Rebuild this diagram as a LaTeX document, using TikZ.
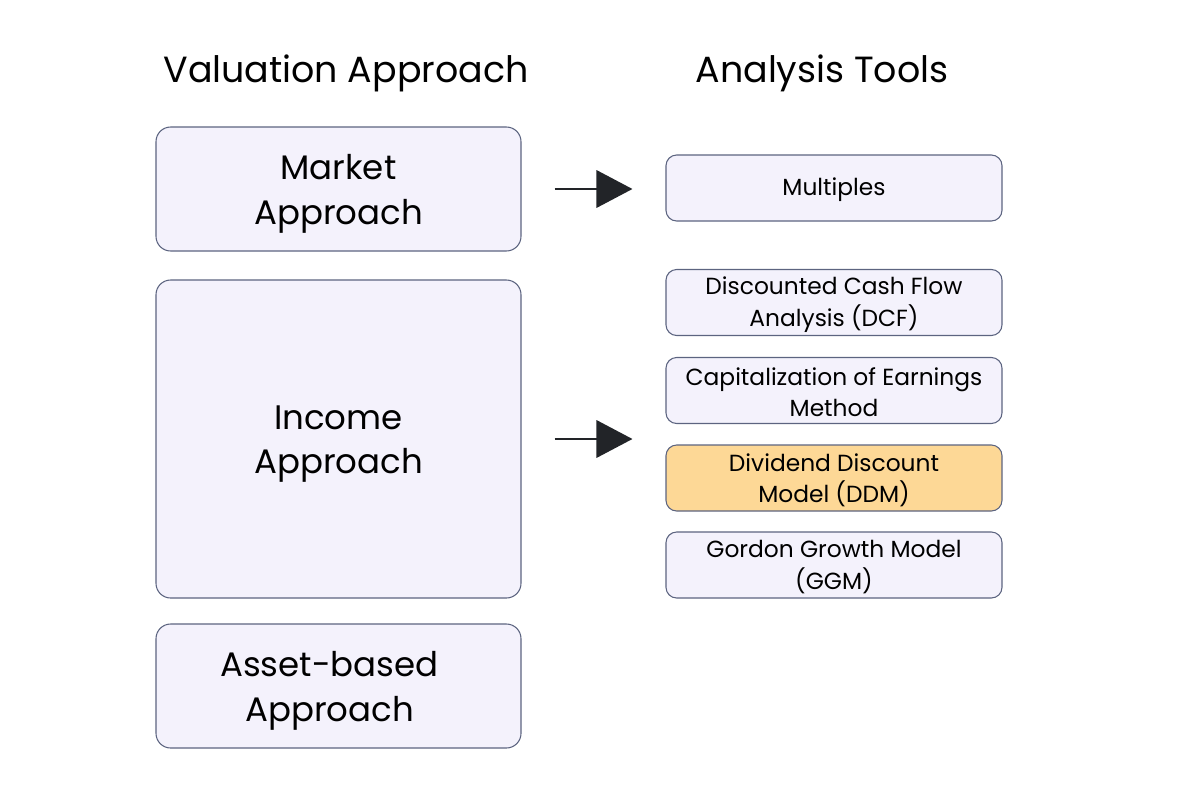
\documentclass[tikz,border=0pt]{standalone}
\usepackage{fontspec}
\setmainfont{Poppins}
\usetikzlibrary{arrows.meta}
\definecolor{boxfill}{HTML}{F4F2FC}
\definecolor{boxline}{HTML}{5C6480}
\definecolor{hlfill}{HTML}{FDD896}
\definecolor{arrowc}{HTML}{222428}
\newcommand\bigtext[1]{\raisebox{-3.75pt}[\height][\depth]{\parbox{250pt}{\centering #1}}}
\newcommand\tooltext[1]{\raisebox{-1.5pt}[\height][\depth]{\parbox{240pt}{\centering #1}}}
\tikzset{
  bigbox/.style={draw=boxline, fill=boxfill, line width=0.8pt, rounded corners=11pt,
    minimum width=365*0.75pt, font=\fontsize{25.5}{33.5}\selectfont, inner sep=0pt},
  toolbox/.style={draw=boxline, fill=boxfill, line width=0.8pt, rounded corners=8pt,
    minimum width=336*0.75pt, minimum height=66*0.75pt, font=\fontsize{17.5}{23.5}\selectfont, inner sep=0pt},
  hl/.style={fill=hlfill},
  title/.style={font=\fontsize{27.3}{30}\selectfont, inner sep=0pt},
  conn/.style={draw=arrowc, line width=1.9pt, -{Triangle[length=27pt,width=28pt]}, shorten <=24.75pt, shorten >=24.75pt}
}
\begin{document}
\begin{tikzpicture}[x=0.75pt,y=-0.75pt]
\useasboundingbox (0,0) rectangle (1193,800);
\node[title] (t1) at (346,73) {Valuation Approach};
\node[title] (t2) at (822,73) {Analysis Tools};
\node[bigbox, minimum height=124*0.75pt] (market) at (338.5,189) {\bigtext{Market\\Approach}};
\node[bigbox, minimum height=318*0.75pt] (income) at (338.5,439) {\bigtext{Income\\Approach}};
\node[bigbox, minimum height=124*0.75pt] (asset) at (338.5,686) {\hspace*{-13.5pt}\bigtext{Asset-based\\Approach}};
\node[toolbox] (mult) at (834,188) {\tooltext{Multiples}};
\node[toolbox] (dcf) at (834,302.5) {\tooltext{Discounted Cash Flow\\Analysis (DCF)}};
\node[toolbox] (cap) at (834,390.5) {\tooltext{Capitalization of Earnings\\Method}};
\node[toolbox, hl] (ddm) at (834,478) {\tooltext{Dividend Discount\\Model (DDM)}};
\node[toolbox] (ggm) at (834,565) {\tooltext{Gordon Growth Model\\(GGM)}};
\draw[conn] (market.east) -- (market.east -| mult.west);
\draw[conn] (income.east) -- (income.east -| mult.west);
\end{tikzpicture}
\end{document}
